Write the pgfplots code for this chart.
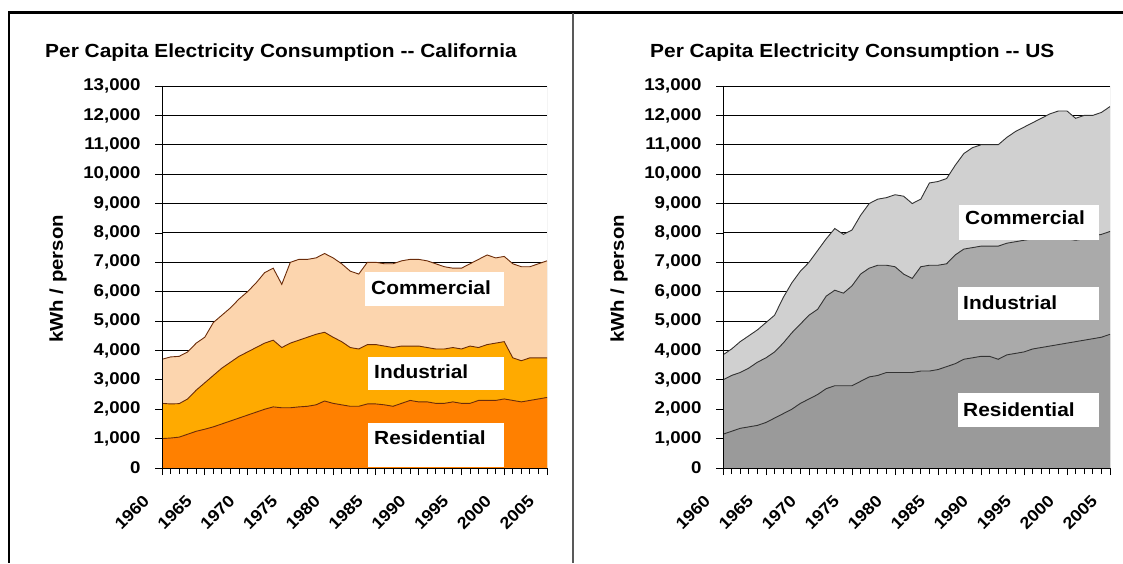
\documentclass[border=0pt]{standalone}
\usepackage{fontspec}
\setmainfont{Liberation Sans}[FakeStretch=1.1]
\usepackage{pgfplots}
\usepackage{pgfplotstable}
\pgfplotsset{compat=1.18}
\definecolor{cares}{HTML}{FF8000}
\definecolor{caind}{HTML}{FFAA00}
\definecolor{cacom}{HTML}{FCD5AE}
\definecolor{caln}{HTML}{6B2C0A}
\definecolor{usres}{HTML}{9A9A9A}
\definecolor{usind}{HTML}{AAAAAA}
\definecolor{uscom}{HTML}{D0D0D0}
\definecolor{usln}{HTML}{333333}

% cumulative tops (kWh/person): residential, +industrial, +commercial
\pgfplotstableread{
yr   res  ind  tot
1960 1000 2200 3700
1961 1020 2180 3780
1962 1050 2190 3800
1963 1150 2350 3950
1964 1250 2650 4250
1965 1320 2900 4450
1966 1400 3150 4950
1967 1500 3400 5200
1968 1600 3600 5450
1969 1700 3800 5750
1970 1800 3950 6000
1971 1900 4100 6300
1972 2000 4250 6650
1973 2080 4350 6800
1974 2050 4100 6250
1975 2050 4250 7000
1976 2080 4350 7100
1977 2100 4450 7100
1978 2150 4550 7150
1979 2280 4620 7300
1980 2200 4450 7150
1981 2150 4300 6950
1982 2100 4100 6700
1983 2100 4050 6600
1984 2180 4200 7000
1985 2180 4200 7000
1986 2150 4150 6950
1987 2100 4100 6950
1988 2200 4150 7050
1989 2300 4150 7100
1990 2250 4150 7100
1991 2250 4100 7050
1992 2200 4050 6950
1993 2200 4050 6850
1994 2250 4100 6800
1995 2200 4050 6800
1996 2200 4150 6950
1997 2300 4100 7100
1998 2300 4200 7250
1999 2300 4250 7150
2000 2350 4300 7200
2001 2300 3750 6950
2002 2250 3650 6850
2003 2300 3750 6850
2004 2350 3750 6950
2005 2400 3750 7050
}\ca

\pgfplotstableread{
yr   res  ind  tot
1960 1150 3000 3850
1961 1250 3150 4050
1962 1350 3250 4300
1963 1400 3400 4500
1964 1450 3600 4700
1965 1550 3750 4950
1966 1700 3950 5200
1967 1850 4250 5800
1968 2000 4600 6300
1969 2200 4900 6700
1970 2350 5200 7000
1971 2500 5400 7400
1972 2700 5850 7800
1973 2800 6050 8150
1974 2800 5950 7950
1975 2800 6200 8100
1976 2950 6600 8600
1977 3100 6800 9000
1978 3150 6900 9150
1979 3250 6900 9200
1980 3250 6850 9300
1981 3250 6600 9250
1982 3250 6450 9000
1983 3300 6850 9150
1984 3300 6900 9700
1985 3350 6900 9750
1986 3450 6950 9850
1987 3550 7250 10300
1988 3700 7450 10700
1989 3750 7500 10900
1990 3800 7550 11000
1991 3800 7550 11000
1992 3700 7550 11000
1993 3850 7650 11250
1994 3900 7700 11450
1995 3950 7750 11600
1996 4050 7800 11750
1997 4100 7850 11900
1998 4150 7850 12050
1999 4200 7800 12150
2000 4250 7800 12150
2001 4300 7750 11900
2002 4350 7800 12000
2003 4400 7900 12000
2004 4450 7950 12100
2005 4550 8050 12300
}\us

\pgfplotsset{
 /pgf/number format/assume math mode=true,
 cons/.style={
  scale only axis, anchor=south west, height=382pt,
  xmin=1960, xmax=2005, ymin=0, ymax=13000,
  xtick={1960,1965,...,2005}, minor x tick num=4,
  ytick={0,1000,...,13000}, scaled y ticks=false,
  axis x line*=bottom, axis y line*=left, axis line style={-,line width=1pt},
  tick align=outside, major tick length=7pt, minor tick length=6pt,
  tick style={black,line width=0.8pt},
  ymajorgrids, grid style={black,line width=0.9pt},
  yticklabel style={font=\fontsize{17}{20}\selectfont\bfseries, xshift=-11pt,
    /pgf/number format/fixed, /pgf/number format/precision=0,
    /pgf/number format/1000 sep={,}},
  xticklabel style={font=\fontsize{16.5}{18}\selectfont\bfseries,
    /pgf/number format/1000 sep={}, xshift=-20pt, yshift=-14pt,
    rotate=45, anchor=north east},
 },
}
\tikzset{lab/.style={anchor=base west, inner sep=0pt, font=\fontsize{19}{22}\selectfont\bfseries}}

\begin{document}
\begin{tikzpicture}
\path[use as bounding box] (0,0) rectangle (1123pt,563pt);

\begin{axis}[cons, at={(162pt,95pt)}, width=385pt]
\addplot[fill=cacom, draw=none] table[x=yr,y=tot] {\ca} \closedcycle;
\addplot[fill=caind, draw=none] table[x=yr,y=ind] {\ca} \closedcycle;
\addplot[fill=cares, draw=none] table[x=yr,y=res] {\ca} \closedcycle;
\addplot[caln, line width=0.9pt, mark=none] table[x=yr,y=tot] {\ca};
\addplot[caln, line width=0.9pt, mark=none] table[x=yr,y=ind] {\ca};
\addplot[caln, line width=0.9pt, mark=none] table[x=yr,y=res] {\ca};
\draw[black!35, line width=0.6pt] (rel axis cs:1,0) -- (rel axis cs:1,1);
\draw[line width=1pt] (rel axis cs:0,1) -- (rel axis cs:0,0) -- (rel axis cs:1,0);
\end{axis}

\begin{axis}[cons, at={(723pt,95pt)}, width=387pt]
\addplot[fill=uscom, draw=none] table[x=yr,y=tot] {\us} \closedcycle;
\addplot[fill=usind, draw=none] table[x=yr,y=ind] {\us} \closedcycle;
\addplot[fill=usres, draw=none] table[x=yr,y=res] {\us} \closedcycle;
\addplot[usln, line width=0.9pt, mark=none] table[x=yr,y=tot] {\us};
\addplot[usln, line width=0.9pt, mark=none] table[x=yr,y=ind] {\us};
\addplot[usln, line width=0.9pt, mark=none] table[x=yr,y=res] {\us};
\draw[black!35, line width=0.6pt] (rel axis cs:1,0) -- (rel axis cs:1,1);
\draw[line width=1pt] (rel axis cs:0,1) -- (rel axis cs:0,0) -- (rel axis cs:1,0);
\end{axis}

% white label boxes
\fill[white] (365pt,257pt) rectangle (504pt,291pt);
\fill[white] (368pt,173pt) rectangle (504pt,206pt);
\fill[white] (368pt,96pt) rectangle (504pt,140pt);
\node[lab] at (371pt,269pt) {Commercial};
\node[lab] at (374pt,184.5pt) {Industrial};
\node[lab] at (374pt,119pt) {Residential};

\fill[white] (959pt,323pt) rectangle (1099pt,358pt);
\fill[white] (958pt,243pt) rectangle (1099pt,276pt);
\fill[white] (958pt,136pt) rectangle (1099pt,170pt);
\node[lab] at (965pt,338pt) {Commercial};
\node[lab] at (963pt,253.5pt) {Industrial};
\node[lab] at (963pt,147pt) {Residential};

% titles and axis labels
\node[lab] at (45pt,505pt) {Per Capita Electricity Consumption -{}- California};
\node[lab] at (650pt,505pt) {Per Capita Electricity Consumption -{}- US};
\node[rotate=90, inner sep=0pt, font=\fontsize{18.5}{21}\selectfont\bfseries] at (58pt,284pt) {kWh / person};
\node[rotate=90, inner sep=0pt, font=\fontsize{18.5}{21}\selectfont\bfseries] at (619pt,284pt) {kWh / person};

% frame
\draw[line width=2.5pt] (9pt,550.5pt) -- (1123pt,550.5pt);
\draw[line width=2.5pt] (9pt,551.5pt) -- (9pt,0pt);
\draw[black!65, line width=2pt] (572.5pt,550pt) -- (572.5pt,0pt);
\end{tikzpicture}
\end{document}
